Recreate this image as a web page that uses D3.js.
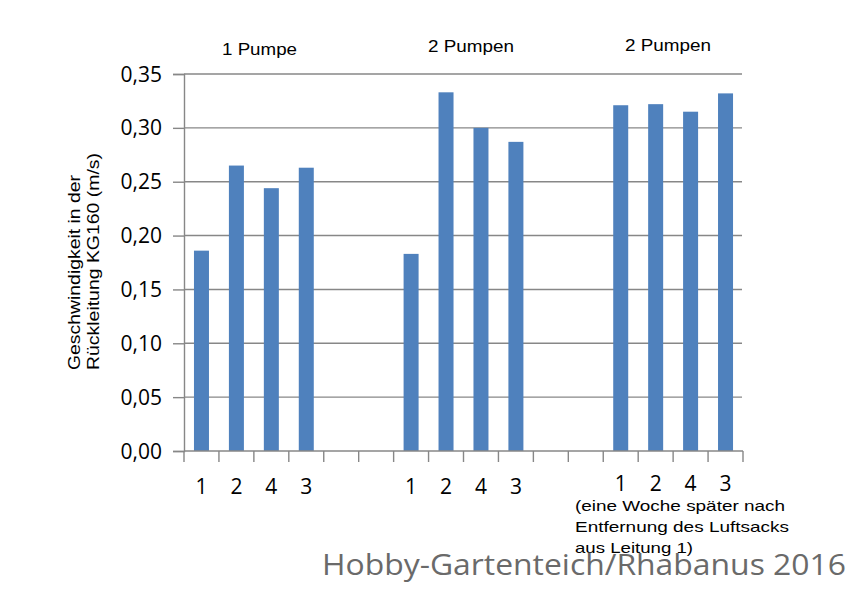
<!DOCTYPE html>
<html><head><meta charset="utf-8">
<script src="https://cdn.jsdelivr.net/npm/d3@7"></script>
<style>body{margin:0;background:#fff}</style>
</head><body>
<svg id="c" width="864" height="613"></svg>
<script>
const slots = d3.range(16).map(String);
const groupTitles = ["1 Pumpe", "2 Pumpen", "2 Pumpen"];
const pumpLabels = ["1", "2", "4", "3"];
const group1 = [0.186, 0.265, 0.244, 0.263];
const group2 = [0.183, 0.333, 0.300, 0.287];
const group3 = [0.321, 0.322, 0.315, 0.332];
const groupStart = [0, 6, 12];
const yTicks = [0, 0.05, 0.10, 0.15, 0.20, 0.25, 0.30, 0.35];
const noteLines = ["(eine Woche später nach", "Entfernung des Luftsacks", "aus Leitung 1)"];
const yTitle = ["Geschwindigkeit in der", "Rückleitung KG160 (m/s)"];

const bars = [];
[group1, group2, group3].forEach((g, gi) => g.forEach((v, i) => bars.push({slot: String(groupStart[gi] + i), v, label: pumpLabels[i], gi})));

const svg = d3.select("#c");
const x = d3.scaleBand().domain(slots).range([184, 743]).paddingInner(0).paddingOuter(0);
const y = d3.scaleLinear().domain([0, 0.35]).range([451, 74]);
const grey = "#878787";
const fmt = v => d3.format(".2f")(v).replace(".", ",");
const fit = (sel, lens) => sel.attr("textLength", (d, i) => lens[i]).attr("lengthAdjust", "spacingAndGlyphs");

// gridlines
svg.append("g").selectAll("line").data(yTicks.filter(t => t > 0)).join("line")
  .attr("x1", 184).attr("x2", 742).attr("y1", d => y(d)).attr("y2", d => y(d))
  .attr("stroke", grey).attr("stroke-width", 1.4);

// y axis
const ya = svg.append("g").attr("transform", "translate(184,0)")
  .call(d3.axisLeft(y).tickValues(yTicks).tickFormat(fmt).tickSize(11).tickPadding(11));
ya.select(".domain").attr("stroke", grey).attr("stroke-width", 1.4);
ya.selectAll(".tick line").attr("stroke", grey).attr("stroke-width", 1.4);
ya.selectAll("text").attr("font-family", "Open Sans").attr("font-size", 21).attr("fill", "#000")
  .attr("dy", "0.34em");

// bars
svg.append("g").selectAll("rect").data(bars).join("rect")
  .attr("x", d => x(d.slot) + x.bandwidth() / 2 - 7.5).attr("width", 15)
  .attr("y", d => y(d.v)).attr("height", d => y(0) - y(d.v))
  .attr("fill", "#4F81BD");

// x axis
const xa = svg.append("g").attr("transform", "translate(0,451)");
xa.append("line").attr("x1", 184).attr("x2", 743).attr("stroke", grey).attr("stroke-width", 1.4);
xa.selectAll("line.t").data(d3.range(17)).join("line").attr("class", "t")
  .attr("x1", i => 184 + i * x.step()).attr("x2", i => 184 + i * x.step())
  .attr("y1", 0).attr("y2", 11).attr("stroke", grey).attr("stroke-width", 1.4);

// category labels
svg.append("g").selectAll("text").data(bars).join("text")
  .attr("x", d => x(d.slot) + x.bandwidth() / 2)
  .attr("y", d => d.gi === 2 ? 490.5 : 493.5)
  .attr("text-anchor", "middle").attr("font-family", "Open Sans").attr("font-size", 21)
  .text(d => d.label);

// group titles
svg.append("g").selectAll("text").data(groupTitles).join("text")
  .attr("x", (d, i) => [222, 428, 625][i])
  .attr("y", (d, i) => [54.5, 52, 51][i])
  .attr("font-family", "Liberation Sans").attr("font-size", 16)
  .text(d => d).call(fit, [75, 86, 86]);

// note
svg.append("g").selectAll("text").data(noteLines).join("text")
  .attr("x", 575).attr("y", (d, i) => 511 + i * 21)
  .attr("font-family", "Liberation Sans").attr("font-size", 14.5)
  .text(d => d).call(fit, [210, 214, 118]);

// y title
svg.append("g").attr("transform", "translate(0,370) rotate(-90)")
  .selectAll("text").data(yTitle).join("text")
  .attr("x", 0).attr("y", (d, i) => [80, 99][i])
  .attr("font-family", "Liberation Sans").attr("font-size", 16)
  .text(d => d).call(fit, [195, 217]);

// watermark
svg.append("text").attr("x", 322).attr("y", 575)
  .attr("font-family", "Open Sans").attr("font-size", 30).attr("fill", "#6a6a6a")
  .text("Hobby-Gartenteich/Rhabanus 2016").call(fit, [524]);
</script>
</body></html>
